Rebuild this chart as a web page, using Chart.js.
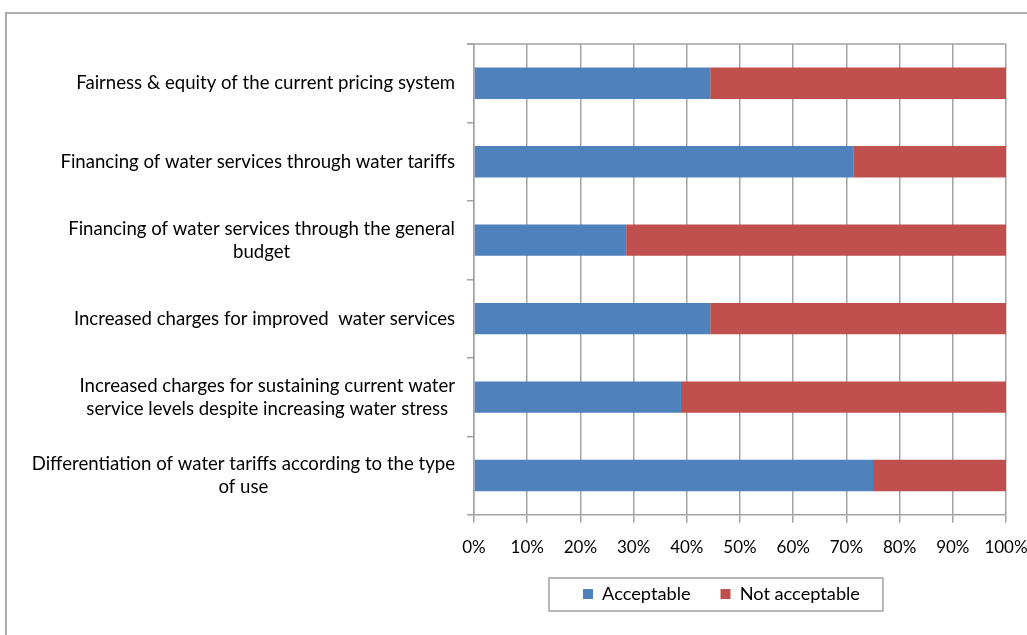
<!DOCTYPE html>
<html>
<head>
<meta charset="utf-8">
<script src="https://cdn.jsdelivr.net/npm/chart.js@4"></script>
<style>
    html, body { margin: 0; padding: 0; background: #fff; overflow: hidden; }
    #frame {
        position: absolute; left: 5px; top: 12px; width: 1100px; height: 700px;
        border-left: 2px solid #adadad; border-top: 2px solid #adadad;
    }
    #wrap { position: absolute; left: 0; top: 0; width: 1027px; height: 635px; }
</style>
</head>
<body>
<div id="frame"></div>
<div id="wrap"><canvas id="pricingChart" width="1027" height="635"></canvas></div>
<script>
// survey statements, one entry per bar (arrays are wrapped lines)
const statements = [
    'Fairness & equity of the current pricing system',
    'Financing of water services through water tariffs',
    ['Financing of water services through the general', 'budget'],
    'Increased charges for improved  water services',
    ['Increased charges for sustaining current water', 'service levels despite increasing water stress'],
    ['Differentiation of water tariffs according to the type', 'of use']
];

// share of answers, in percent
const acceptable = [44.4, 71.4, 28.6, 44.4, 38.9, 75.0];
const notAcceptable = [55.6, 28.6, 71.4, 55.6, 61.1, 25.0];

const percentTicks = [0, 10, 20, 30, 40, 50, 60, 70, 80, 90, 100];

const FONT = 'Lato, "Open Sans", sans-serif';
const GRID = '#a3a3a3';

// category labels: block right aligned, each line centred inside it
const statementLabels = {
    id: 'statementLabels',
    afterDraw(chart) {
        const ctx = chart.ctx;
        const yScale = chart.scales.y;
        const right = chart.chartArea.left - 19;
        ctx.save();
        ctx.font = '18.6px ' + FONT;
        ctx.fillStyle = '#000';
        ctx.textAlign = 'center';
        ctx.textBaseline = 'middle';
        statements.forEach((s, i) => {
            const lines = Array.isArray(s) ? s : [s];
            const w = Math.max(...lines.map(l => ctx.measureText(l).width));
            const cx = right - w / 2;
            const y = yScale.getPixelForValue(i);
            lines.forEach((l, j) => {
                ctx.fillText(l, cx, y + (j - (lines.length - 1) / 2) * 23);
            });
        });
        ctx.restore();
    }
};

// top edge of the plot, plus a frame round the legend
const plotExtras = {
    id: 'plotExtras',
    afterUpdate(chart) {
        const legend = chart.legend;
        const boxes = legend.legendHitBoxes;
        if (!boxes || !boxes.length) return;
        const dx = 583 - boxes[0].left;
        const dy = 594 - (boxes[0].top + boxes[0].height / 2);
        legend.left += dx; legend.right += dx;
        legend.top += dy; legend.bottom += dy;
        boxes.forEach(b => { b.left += dx; b.top += dy; });
    },
    afterDraw(chart) {
        const ctx = chart.ctx;
        const area = chart.chartArea;
        ctx.save();
        ctx.strokeStyle = GRID;
        ctx.lineWidth = 1.5;
        ctx.beginPath();
        ctx.moveTo(area.left - 7, area.top);
        ctx.lineTo(area.right, area.top);
        ctx.stroke();

        const boxes = chart.legend.legendHitBoxes;
        const left = Math.min(...boxes.map(b => b.left)) - 34;
        const right = Math.max(...boxes.map(b => b.left + b.width)) + 23;
        const mid = boxes[0].top + boxes[0].height / 2;
        ctx.strokeStyle = '#a0a0a0';
        ctx.lineWidth = 1.5;
        ctx.strokeRect(left, mid - 16, right - left, 33);
        ctx.restore();
    }
};

const ctx = document.getElementById('pricingChart').getContext('2d');
const pricingChart = new Chart(ctx, {
    type: 'bar',
    data: {
        labels: statements,
        datasets: [{
            label: 'Acceptable',
            data: acceptable,
            backgroundColor: '#4f81bd',
            barPercentage: 0.4,
            categoryPercentage: 1.0
        }, {
            label: 'Not acceptable',
            data: notAcceptable,
            backgroundColor: '#c0504d',
            barPercentage: 0.4,
            categoryPercentage: 1.0
        }]
    },
    options: {
        indexAxis: 'y',
        responsive: false,
        animation: false,
        layout: {
            padding: { top: 44, right: 21, left: 0, bottom: 17 }
        },
        scales: {
            x: {
                stacked: true,
                min: 0,
                max: 100,
                afterBuildTicks: scale => {
                    scale.ticks = percentTicks.map(v => ({ value: v }));
                },
                afterFit: scale => {
                    scale.height = 45;
                    scale.paddingLeft = 0;
                    scale.paddingRight = 0;
                },
                ticks: {
                    callback: v => v + '%',
                    color: '#000',
                    padding: 15,
                    maxRotation: 0,
                    font: { family: FONT, size: 17 }
                },
                grid: { color: GRID, lineWidth: 1.5, tickLength: 8 },
                border: { color: GRID, width: 1.5 }
            },
            y: {
                stacked: true,
                afterFit: scale => { scale.width = 474; },
                ticks: { display: false },
                grid: {
                    offset: true,
                    drawOnChartArea: false,
                    color: GRID,
                    lineWidth: 1.5,
                    tickLength: 7
                },
                border: { color: GRID, width: 1.5 }
            }
        },
        plugins: {
            legend: {
                display: true,
                position: 'bottom',
                labels: {
                    boxWidth: 10,
                    boxHeight: 10,
                    padding: 30,
                    color: '#000',
                    font: { family: FONT, size: 18.2 }
                }
            },
            tooltip: { enabled: false }
        }
    },
    plugins: [statementLabels, plotExtras]
});
</script>
</body>
</html>
